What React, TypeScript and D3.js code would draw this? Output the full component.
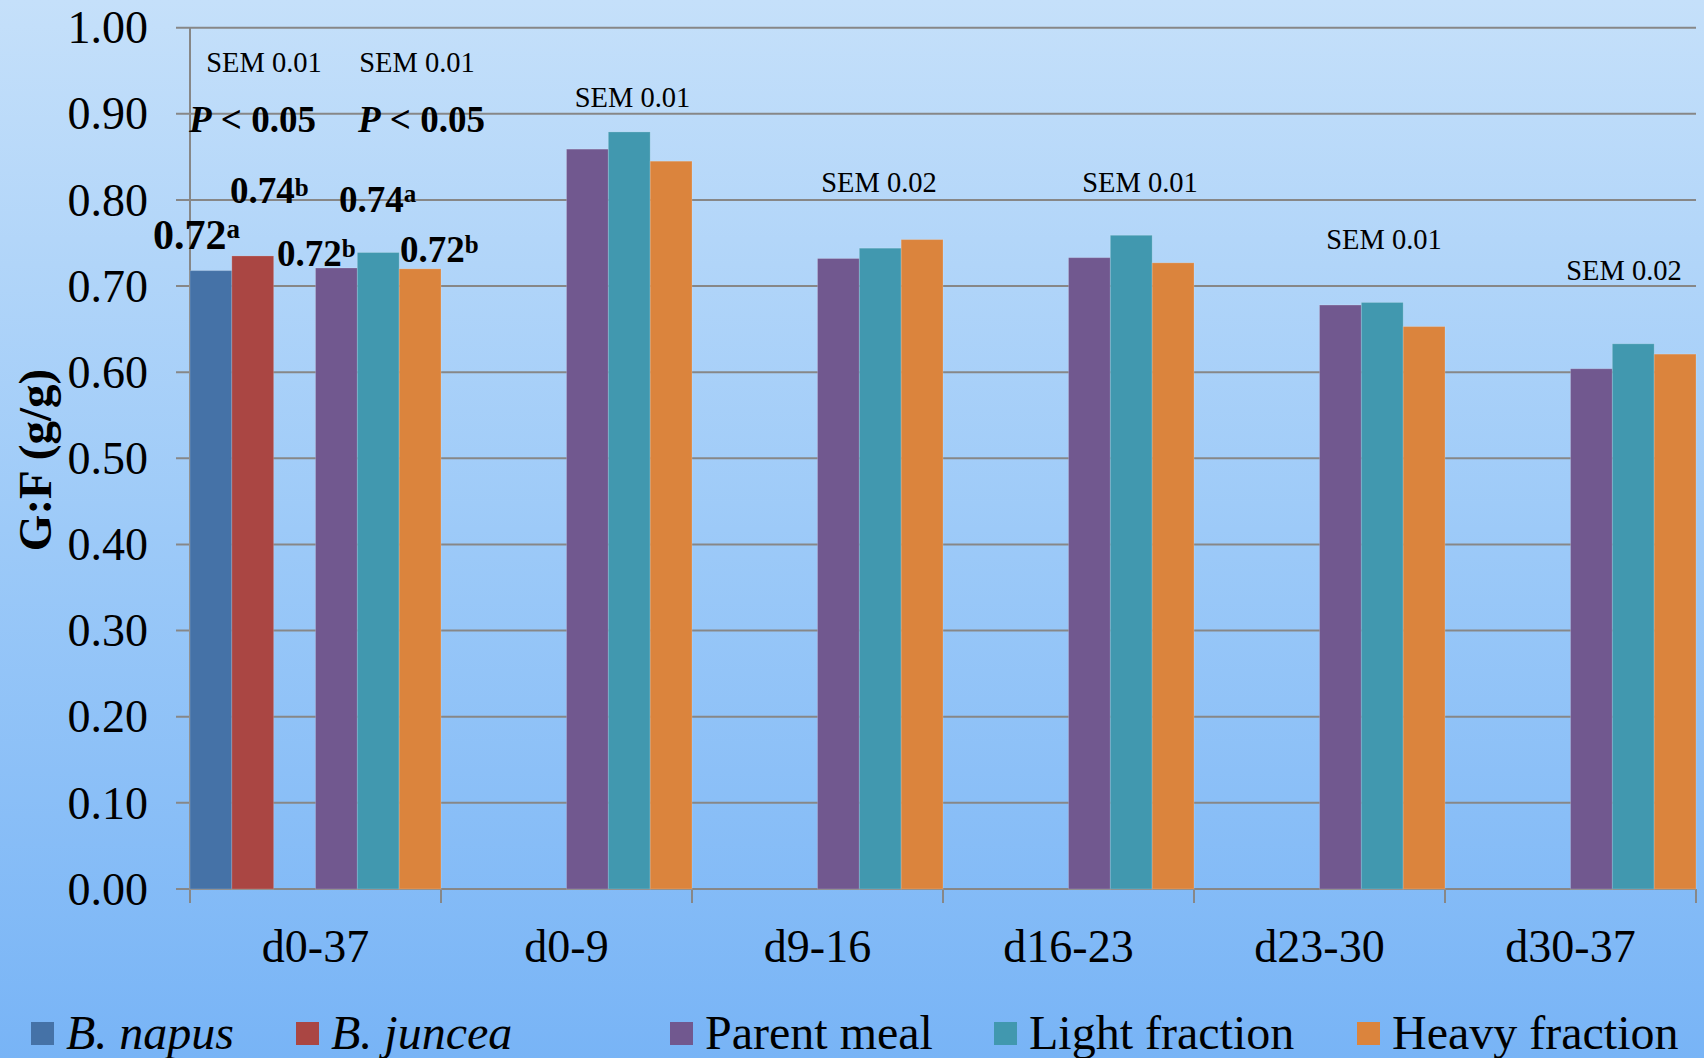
import React from "react";
import * as d3 from "d3";

// ---- data ----
const categories = ["d0-37", "d0-9", "d9-16", "d16-23", "d23-30", "d30-37"];
const seriesKeys = ["napus", "juncea", "blank", "parent", "light", "heavy"];
const seriesNames = ["B. napus", "B. juncea", "", "Parent meal", "Light fraction", "Heavy fraction"];
const seriesItalic = [true, true, false, false, false, false];
const seriesColors = ["#4572A7", "#AA4643", "none", "#71588F", "#4198AF", "#DB843D"];
const napusValues = [0.718, null, null, null, null, null];
const junceaValues = [0.735, null, null, null, null, null];
const parentValues = [0.721, 0.859, 0.732, 0.733, 0.678, 0.604];
const lightValues = [0.739, 0.879, 0.744, 0.759, 0.681, 0.633];
const heavyValues = [0.720, 0.845, 0.754, 0.727, 0.653, 0.621];
const yTicks = [0, 0.1, 0.2, 0.3, 0.4, 0.5, 0.6, 0.7, 0.8, 0.9, 1.0];
const semLabels = ["SEM 0.01", "SEM 0.01", "SEM 0.01", "SEM 0.02", "SEM 0.01", "SEM 0.01", "SEM 0.02"];

const W = 1704;
const H = 1058;
const FONT = "'Liberation Serif', 'Times New Roman', serif";

export default function App() {
  const left = 190, right = 1696, top = 27.7, bottom = 889;
  const x = d3.scaleBand<string>().domain(categories).range([left, right]).padding(0);
  const xs = d3.scaleBand<string>().domain(seriesKeys).range([0, x.bandwidth()]).padding(0);
  const y = d3.scaleLinear().domain([0, 1]).range([bottom, top]);

  const valuesBySeries: (number | null)[][] = [
    napusValues, junceaValues, categories.map(() => null), parentValues, lightValues, heavyValues,
  ];

  // annotation positions: [x in px (center), y value for baseline]
  const semPos: [number, number][] = [
    [264, 0.948], [417, 0.948],
    [x("d0-9")! + 191.5, 0.908],
    [x("d9-16")! + 187, 0.8095],
    [x("d16-23")! + 197, 0.8095],
    [x("d23-30")! + 190, 0.743],
    [x("d30-37")! + 179, 0.707],
  ];

  const valLabels = [
    { x: 153, yv: 0.743, main: "0.72", sup: "a", size: 42, supSize: 27, dy: -11 },
    { x: 230, yv: 0.796, main: "0.74", sup: "b", size: 37, supSize: 25, dy: -7 },
    { x: 277, yv: 0.7235, main: "0.72", sup: "b", size: 37, supSize: 25, dy: -9 },
    { x: 339, yv: 0.786, main: "0.74", sup: "a", size: 37, supSize: 25, dy: -10 },
    { x: 400, yv: 0.728, main: "0.72", sup: "b", size: 37, supSize: 25, dy: -9 },
  ];

  const legendX = [31, 296, 0, 670, 994, 1357];

  return (
    <svg width={W} height={H} style={{ position: "absolute", left: 0, top: 0 }} fontFamily={FONT}>
      <defs>
        <linearGradient id="bg" x1="0" y1="0" x2="0" y2="1">
          <stop offset="0" stopColor="#c5e0fa" />
          <stop offset="0.5" stopColor="#9dcaf8" />
          <stop offset="1" stopColor="#78b4f6" />
        </linearGradient>
      </defs>
      <rect x={0} y={0} width={W} height={H} fill="url(#bg)" />

      {/* gridlines */}
      {yTicks.map((t) => (
        <line key={"g" + t} x1={176} x2={right} y1={y(t)} y2={y(t)} stroke="#878787" strokeWidth={2} />
      ))}
      {/* y axis */}
      <line x1={left} x2={left} y1={top} y2={bottom + 14} stroke="#878787" strokeWidth={2} />
      {/* x ticks */}
      {categories.map((c) => (
        <line key={"xt" + c} x1={x(c)! + x.bandwidth()} x2={x(c)! + x.bandwidth()} y1={bottom} y2={bottom + 14} stroke="#878787" strokeWidth={2} />
      ))}

      {/* bars */}
      {seriesKeys.map((k, si) =>
        si === 2 ? null : categories.map((c, ci) => {
          const v = valuesBySeries[si][ci];
          if (v == null) return null;
          return (
            <rect
              key={k + c}
              x={x(c)! + xs(k)!}
              y={y(v)}
              width={xs.bandwidth()}
              height={y(0) - y(v)}
              fill={seriesColors[si]}
              stroke="rgba(255,255,255,0.18)"
              strokeWidth={1}
            />
          );
        })
      )}

      {/* y tick labels */}
      {yTicks.map((t) => (
        <text key={"yl" + t} x={148} y={y(t)} dy="0.34em" textAnchor="end" fontSize={46} fill="#000">
          {t.toFixed(2)}
        </text>
      ))}

      {/* x labels */}
      {categories.map((c) => (
        <text key={"xl" + c} x={x(c)! + x.bandwidth() / 2} y={962} textAnchor="middle" fontSize={46} fill="#000">
          {c}
        </text>
      ))}

      {/* y axis title */}
      <text transform={`translate(51,460) rotate(-90)`} textAnchor="middle" fontSize={47} fontWeight="bold" fill="#000">
        G:F (g/g)
      </text>

      {/* SEM labels */}
      {semLabels.map((s, i) => (
        <text key={"sem" + i} x={semPos[i][0]} y={y(semPos[i][1])} textAnchor="middle" fontSize={28.5} fill="#000">
          {s}
        </text>
      ))}

      {/* P labels */}
      {[189, 358].map((px) => (
        <text key={"p" + px} x={px} y={y(0.879)} fontSize={37} fontWeight="bold" fill="#000">
          <tspan fontStyle="italic">P</tspan>
          <tspan>{" < 0.05"}</tspan>
        </text>
      ))}

      {/* value labels */}
      {valLabels.map((l, i) => (
        <text key={"vl" + i} x={l.x} y={y(l.yv)} fontSize={l.size} fontWeight="bold" fill="#000">
          <tspan>{l.main}</tspan>
          <tspan fontSize={l.supSize} dy={l.dy}>{l.sup}</tspan>
        </text>
      ))}

      {/* legend */}
      {seriesKeys.map((k, si) =>
        si === 2 ? null : (
          <g key={"lg" + k}>
            <rect x={legendX[si]} y={1022} width={23} height={23} fill={seriesColors[si]} />
            <text x={legendX[si] + 35} y={1049} fontSize={48} fontStyle={seriesItalic[si] ? "italic" : "normal"} fill="#000">
              {seriesNames[si]}
            </text>
          </g>
        )
      )}
    </svg>
  );
}
